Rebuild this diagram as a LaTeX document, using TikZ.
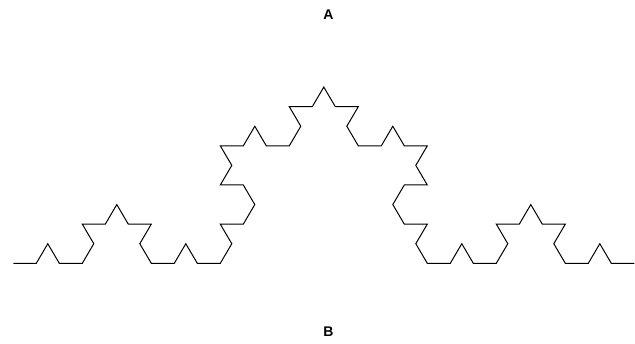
\documentclass[tikz,border=0pt]{standalone}
\usepackage{fontspec}
\setmainfont{Liberation Sans}
\tikzset{
  kochline/.style={draw=black, line width=1pt, line join=miter},
  label/.style={font=\fontsize{14}{16}\selectfont\bfseries, inner sep=0pt}
}
\begin{document}
\begin{tikzpicture}[x=1pt,y=1pt]
\useasboundingbox (0,0) rectangle (635,-344);
\node[label] (A) at (328.5,-15) {A};
\node[label] (B) at (328.5,-332) {B};
\gdef\kochpath{}
\foreach \a in {0,60,-60,0}{\foreach \b in {0,60,-60,0}{\foreach \c in {0,60,-60,0}{%
  \pgfmathtruncatemacro\d{\a+\b+\c}%
  \xdef\kochpath{\kochpath -- ++(\d:23)}}}}
\begin{scope}[y=0.983pt]
\coordinate (start) at (13.3,-267.86);
\draw[kochline] (start) \kochpath;
\end{scope}
\end{tikzpicture}
\end{document}
